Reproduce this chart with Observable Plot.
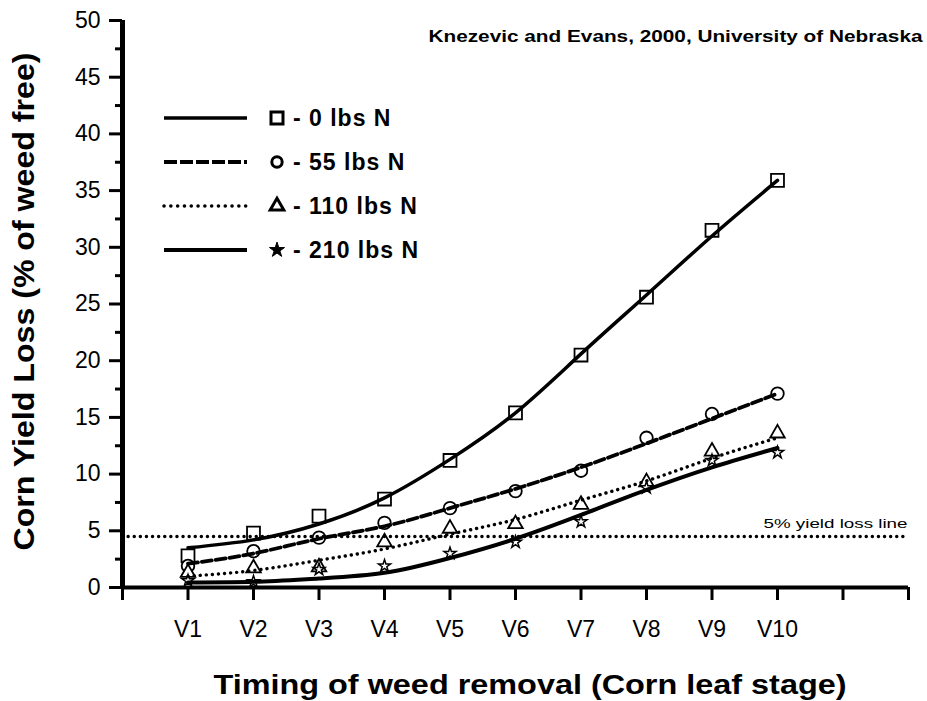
<!DOCTYPE html>
<html>
<head>
<meta charset="utf-8">
<script src="https://cdn.jsdelivr.net/npm/d3@7"></script>
<script src="https://cdn.jsdelivr.net/npm/@observablehq/plot@0.6"></script>
<style>
  html, body { margin: 0; padding: 0; background: #fff; }
  #chart { width: 927px; height: 701px; }
</style>
</head>
<body>
<div id="chart"></div>
<script>
// ---- data ----
const stages = [1, 2, 3, 4, 5, 6, 7, 8, 9, 10];
const stageLabels = ["V1", "V2", "V3", "V4", "V5", "V6", "V7", "V8", "V9", "V10"];
const xTicks = [0, 1, 2, 3, 4, 5, 6, 7, 8, 9, 10, 11, 12];
const yMajor = [0, 5, 10, 15, 20, 25, 30, 35, 40, 45, 50];
const yMinor = [2.5, 7.5, 12.5, 17.5, 22.5, 27.5, 32.5, 37.5, 42.5, 47.5];
const seriesNames = ["- 0 lbs N", "- 55 lbs N", "- 110 lbs N", "- 210 lbs N"];

// observed points
const obs0   = [2.8, 4.8, 6.3, 7.8, 11.2, 15.4, 20.5, 25.6, 31.5, 35.9];
const obs55  = [1.9, 3.2, 4.4, 5.7, 7.0, 8.5, 10.3, 13.2, 15.3, 17.1];
const obs110 = [1.3, 1.7, 1.8, 4.0, 5.2, 5.6, 7.3, 9.3, 12.0, 13.6];
const obs210 = [0.6, 0.5, 1.6, 1.9, 3.0, 4.0, 5.8, 8.8, 11.2, 11.9];

// fitted curves
const fit0   = [3.5, 4.2, 5.6, 7.9, 11.3, 15.4, 20.6, 25.8, 31.0, 35.9];
const fit55  = [2.1, 3.0, 4.3, 5.4, 7.0, 8.7, 10.6, 12.7, 14.9, 17.1];
const fit110 = [1.0, 1.5, 2.4, 3.4, 4.7, 6.0, 7.7, 9.4, 11.4, 13.2];
const fit210 = [0.45, 0.5, 0.8, 1.3, 2.6, 4.3, 6.4, 8.6, 10.6, 12.3];

const threshold = 4.5;
const thresholdLabel = "5% yield loss line";
const sourceNote = "Knezevic and Evans, 2000, University of Nebraska";
const xTitle = "Timing of weed removal (Corn leaf stage)";
const yTitle = "Corn Yield Loss (% of weed free)";

const toRows = (vals) => stages.map((s, i) => ({x: s, y: vals[i]}));
const font = "'Liberation Sans', Arial, Helvetica, sans-serif";

const dotted = {strokeDasharray: "0.1,6", strokeLinecap: "round"};

const svg = Plot.plot({
  width: 927,
  height: 701,
  marginLeft: 122,
  marginRight: 19,
  marginTop: 20,
  marginBottom: 114,
  style: {fontFamily: font, background: "#fff", color: "#000", overflow: "visible"},
  x: {domain: [xTicks[0], xTicks[xTicks.length - 1]]},
  y: {domain: [yMajor[0], yMajor[yMajor.length - 1]]},
  marks: [
    // markers
    Plot.dot(toRows(obs0),   {x: "x", y: "y", symbol: "square",   r: 7.3, fill: "white", stroke: "black", strokeWidth: 1.8}),
    Plot.dot(toRows(obs55),  {x: "x", y: "y", symbol: "circle",   r: 6.3, fill: "white", stroke: "black", strokeWidth: 1.8}),
    Plot.dot(toRows(obs110), {x: "x", y: "y", symbol: "triangle", r: 5.4, fill: "white", stroke: "black", strokeWidth: 1.8}),
    Plot.dot(toRows(obs210), {x: "x", y: "y", symbol: "star",     r: 3.8, fill: "white", stroke: "black", strokeWidth: 1.5}),
    // fitted lines
    Plot.line(toRows(fit0),   {x: "x", y: "y", curve: "natural", stroke: "black", strokeWidth: 3.5}),
    Plot.line(toRows(fit55),  {x: "x", y: "y", curve: "natural", stroke: "black", strokeWidth: 3.8, strokeDasharray: "10,4"}),
    Plot.line(toRows(fit110), {x: "x", y: "y", curve: "natural", stroke: "black", strokeWidth: 3.4, ...dotted}),
    Plot.line(toRows(fit210), {x: "x", y: "y", curve: "natural", stroke: "black", strokeWidth: 4}),
    // 5% threshold
    Plot.ruleY([threshold], {x1: xTicks[0], x2: xTicks[xTicks.length - 1], stroke: "black", strokeWidth: 3.4, ...dotted}),
    Plot.text([thresholdLabel], {x: xTicks[xTicks.length - 1], y: threshold, text: d => d, textAnchor: "end", lineAnchor: "bottom", dx: -1, dy: -8, fontSize: 13, fill: "black"}),
    // axes
    Plot.axisY({ticks: yMinor, tickSize: 7, strokeWidth: 3, tickFormat: () => "", label: null}),
    Plot.axisY({ticks: yMajor, tickSize: 13, strokeWidth: 3, tickPadding: 9, fontSize: 23, label: null}),
    Plot.axisX({ticks: xTicks, tickSize: 13, strokeWidth: 3, tickPadding: 20, fontSize: 23, label: null,
                tickFormat: d => stageLabels[d - 1] ?? ""}),
    Plot.ruleX([xTicks[0]], {stroke: "black", strokeWidth: 5}),
    Plot.ruleY([yMajor[0]], {stroke: "black", strokeWidth: 4}),
    // titles
    Plot.text([xTitle], {frameAnchor: "bottom", text: d => d, textAnchor: "middle", lineAnchor: "top", dx: 14.5, dy: 87, fontSize: 28, fontWeight: "bold", fill: "black"}),
    Plot.text([yTitle], {frameAnchor: "left", text: d => d, textAnchor: "middle", rotate: -90, lineAnchor: "top", dx: -110, dy: -2.5, fontSize: 30, fontWeight: "bold", fill: "black"}),
    Plot.text([sourceNote], {frameAnchor: "top-right", text: d => d, textAnchor: "end", lineAnchor: "top", dx: 14, dy: 9, fontSize: 17, fontWeight: "bold", fill: "black"})
  ]
});

// stretch texts to the reference extents
const lengths = new Map([[xTitle, 633], [yTitle, 498], [sourceNote, 494], [thresholdLabel, 144]]);
d3.select(svg).selectAll("text").each(function() {
  const t = this.textContent;
  if (lengths.has(t)) {
    this.setAttribute("textLength", lengths.get(t));
    this.setAttribute("lengthAdjust", "spacingAndGlyphs");
  }
});

// legend
const legendStyles = [
  {dash: null, width: 3.5, symbol: d3.symbolSquare, size: 144, fill: "white", sw: 3},
  {dash: "13,3", width: 4, symbol: d3.symbolCircle, size: 85, fill: "white", sw: 3},
  {dash: "0.1,6.7", width: 3.5, symbol: d3.symbolTriangle, size: 80, fill: "white", sw: 3},
  {dash: null, width: 4, symbol: d3.symbolStar, size: 70, fill: "black", sw: 1}
];
const lg = d3.select(svg).append("g").attr("font-family", font).attr("text-anchor", "start");
seriesNames.forEach((name, i) => {
  const st = legendStyles[i];
  const yy = 118 + i * 44;
  lg.append("line").attr("x1", 164).attr("x2", 247).attr("y1", yy).attr("y2", yy)
    .attr("stroke", "black").attr("stroke-width", st.width)
    .attr("stroke-dasharray", st.dash).attr("stroke-linecap", st.dash === "0.1,6.7" ? "round" : "butt");
  lg.append("path").attr("d", d3.symbol(st.symbol, st.size)()).attr("transform", `translate(277,${yy})`)
    .attr("fill", st.fill).attr("stroke", "black").attr("stroke-width", st.sw);
  lg.append("text").attr("x", 293).attr("y", yy).attr("dy", "0.35em").attr("text-anchor", "start")
    .attr("font-size", 23).attr("font-weight", "bold").attr("letter-spacing", 1)
    .attr("fill", "black").text(name);
});

document.getElementById("chart").appendChild(svg);
</script>
</body>
</html>
